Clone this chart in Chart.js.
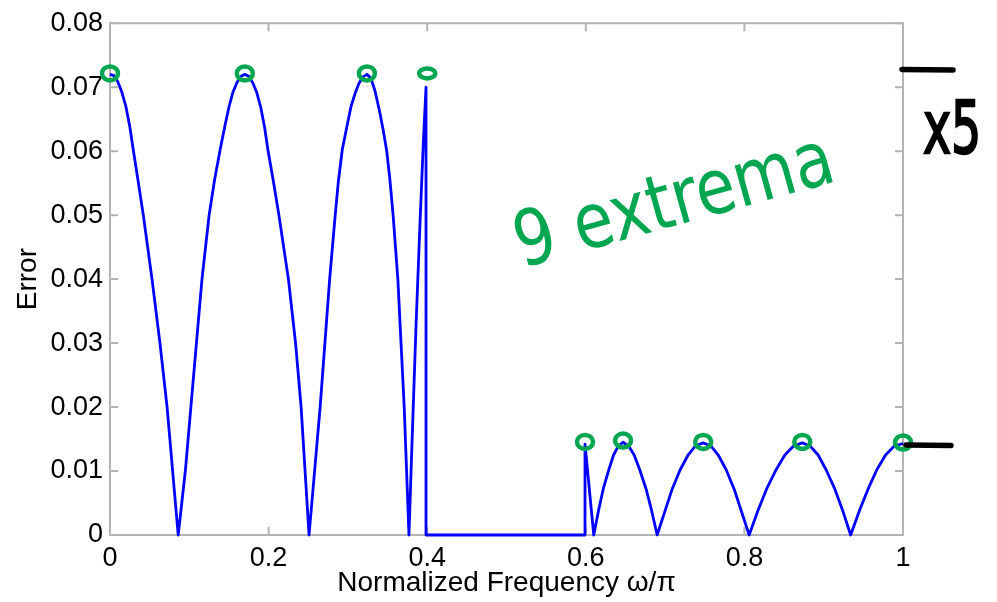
<!DOCTYPE html>
<html>
<head>
<meta charset="utf-8">
<script src="https://cdn.jsdelivr.net/npm/chart.js@4.4.1/dist/chart.umd.min.js"></script>
<style>
  html, body { margin: 0; padding: 0; background: #fff; }
  canvas { display: block; }
</style>
</head>
<body>
<canvas id="errorChart" width="997" height="602"></canvas>
<script>
// Error curve: passband, transition, stopband
const passFreq = [0, 0.005, 0.010, 0.015, 0.020, 0.025, 0.029, 0.035, 0.042, 0.053, 0.063, 0.072, 0.079, 0.086,
  0.095, 0.102, 0.109, 0.116, 0.125, 0.132, 0.139, 0.145, 0.150, 0.155, 0.160, 0.165, 0.170,
  0.175, 0.180, 0.185, 0.190, 0.195, 0.199, 0.206,
  0.213, 0.225, 0.234, 0.241, 0.246, 0.251,
  0.258, 0.265, 0.271, 0.277, 0.284, 0.288, 0.293, 0.299, 0.304, 0.309, 0.314, 0.319, 0.324,
  0.329, 0.334, 0.340, 0.3445, 0.349, 0.353,
  0.357, 0.363, 0.367, 0.371, 0.374, 0.377,
  0.381, 0.386, 0.391, 0.395, 0.3985];
const passErr = [0.0720, 0.0718, 0.0708, 0.0692, 0.0670, 0.0638, 0.0605, 0.0557, 0.0500, 0.0400, 0.0300, 0.0200, 0.0100, 0,
  0.0100, 0.0200, 0.0300, 0.0400, 0.0500, 0.0556, 0.0603, 0.0640, 0.0669, 0.0692, 0.0707, 0.0717, 0.0720,
  0.0717, 0.0707, 0.0692, 0.0669, 0.0637, 0.0603, 0.0553,
  0.0500, 0.0400, 0.0300, 0.0200, 0.0100, 0,
  0.0100, 0.0200, 0.0300, 0.0400, 0.0500, 0.0553, 0.0603, 0.0640, 0.0670, 0.0690, 0.0706, 0.0716, 0.0720,
  0.0714, 0.0695, 0.0662, 0.0633, 0.0600, 0.0555,
  0.0500, 0.0400, 0.0300, 0.0200, 0.0100, 0,
  0.0150, 0.0330, 0.0490, 0.0610, 0.0700];

const transFreq = [0.3985, 0.599];
const transErr = [0, 0];

const stopFreq = [0.599, 0.610,
  0.616, 0.622, 0.629, 0.635, 0.641, 0.647, 0.654, 0.661, 0.668, 0.676, 0.683, 0.690,
  0.700, 0.709, 0.719, 0.729, 0.738, 0.748, 0.758, 0.767, 0.777, 0.787, 0.796, 0.806,
  0.817, 0.828, 0.840, 0.851, 0.862, 0.873, 0.883, 0.893, 0.903, 0.914, 0.924, 0.934,
  0.945, 0.956, 0.967, 0.978, 0.989, 1.0];
const stopErr = [0.0142, 0,
  0.0038, 0.0072, 0.0102, 0.0125, 0.0139, 0.0145, 0.0139, 0.0125, 0.0102, 0.0072, 0.0038, 0,
  0.0038, 0.0072, 0.0102, 0.0125, 0.0139, 0.0144, 0.0139, 0.0125, 0.0102, 0.0072, 0.0038, 0,
  0.0038, 0.0072, 0.0102, 0.0125, 0.0139, 0.0144, 0.0139, 0.0125, 0.0102, 0.0072, 0.0038, 0,
  0.0038, 0.0072, 0.0102, 0.0125, 0.0139, 0.0143];

// the 9 circled extrema
const extremaFreq = [0, 0.170, 0.324, 0.4, 0.599, 0.647, 0.748, 0.873, 1.0];
const extremaErr = [0.072, 0.072, 0.072, 0.072, 0.0144, 0.0146, 0.0144, 0.0144, 0.0143];
// the two ripple levels marked on the right
const rippleLevels = [0.072, 0.0144];

const xTicks = [0, 0.2, 0.4, 0.6, 0.8, 1];
const xTickLabels = ['0', '0.2', '0.4', '0.6', '0.8', '1'];
const yTicks = [0, 0.01, 0.02, 0.03, 0.04, 0.05, 0.06, 0.07, 0.08];
const yTickLabels = ['0', '0.01', '0.02', '0.03', '0.04', '0.05', '0.06', '0.07', '0.08'];

const toPoints = (xs, ys) => xs.map((x, i) => ({ x: x, y: ys[i] }));
const curve = [].concat(
  toPoints(passFreq, passErr),
  toPoints(transFreq, transErr),
  toPoints(stopFreq, stopErr)
);

const FONT = '"Liberation Sans", Arial, Helvetica, sans-serif';
const GREEN = '#00a650';

// MATLAB style box with inward ticks on all four sides
const boxPlugin = {
  id: 'box',
  beforeDatasetsDraw(chart) {
    const { ctx, chartArea: a, scales } = chart;
    const len = 8;
    ctx.save();
    ctx.strokeStyle = '#b4b4b4';
    ctx.lineWidth = 2;
    ctx.strokeRect(a.left, a.top, a.right - a.left, a.bottom - a.top);
    ctx.beginPath();
    xTicks.forEach(v => {
      const px = scales.x.getPixelForValue(v);
      ctx.moveTo(px, a.bottom); ctx.lineTo(px, a.bottom - len);
      ctx.moveTo(px, a.top); ctx.lineTo(px, a.top + len);
    });
    yTicks.forEach(v => {
      const py = scales.y.getPixelForValue(v);
      ctx.moveTo(a.left, py); ctx.lineTo(a.left + len, py);
      ctx.moveTo(a.right, py); ctx.lineTo(a.right - len, py);
    });
    ctx.stroke();
    ctx.restore();
  }
};

// hand drawn notes: circles, "9 extrema", "x5" and ripple marks
const notesPlugin = {
  id: 'notes',
  afterDraw(chart) {
    const { ctx, scales } = chart;
    ctx.save();
    ctx.strokeStyle = GREEN;
    ctx.lineWidth = 4.5;
    extremaFreq.forEach((f, i) => {
      const px = scales.x.getPixelForValue(f);
      const py = scales.y.getPixelForValue(extremaErr[i]) - 1;
      ctx.beginPath();
      ctx.ellipse(px, py, 8, i === 3 ? 5 : 7, 0, 0, Math.PI * 2);
      ctx.stroke();
    });

    ctx.fillStyle = GREEN;
    ctx.font = '64px "DejaVu Sans", sans-serif';
    ctx.translate(522, 268);
    ctx.rotate(-0.27);
    ctx.scale(1, 1.2);
    ctx.fillText('9 extrema', 0, 0);
    ctx.restore();

    ctx.save();
    ctx.fillStyle = '#000';
    ctx.strokeStyle = '#000';
    ctx.lineWidth = 1.6;
    ctx.font = '50px "DejaVu Sans", sans-serif';
    ctx.translate(923, 153);
    ctx.scale(0.95, 1.45);
    ctx.fillText('x5', 0, 0);
    ctx.strokeText('x5', 0, 0);
    ctx.restore();

    ctx.save();
    ctx.strokeStyle = '#000';
    ctx.lineWidth = 5.5;
    ctx.lineCap = 'round';
    const right = chart.chartArea.right;
    rippleLevels.forEach((lv, i) => {
      const py = scales.y.getPixelForValue(lv) + (i === 0 ? -5 : 2);
      ctx.beginPath();
      ctx.moveTo(right + (i === 0 ? -1 : 3), py);
      ctx.lineTo(right + (i === 0 ? 50 : 48), py + 0.5);
      ctx.stroke();
    });
    ctx.restore();
  }
};

const ctx = document.getElementById('errorChart').getContext('2d');
new Chart(ctx, {
  type: 'line',
  data: {
    datasets: [{
      data: curve,
      borderColor: '#0000ff',
      borderWidth: 2.8,
      borderJoinStyle: 'round',
      pointRadius: 0,
      tension: 0,
      fill: false,
      clip: false
    }]
  },
  options: {
    responsive: false,
    animation: false,
    devicePixelRatio: 1,
    layout: { padding: { left: 0, top: 14, right: 94, bottom: 0 } },
    plugins: {
      legend: { display: false },
      tooltip: { enabled: false }
    },
    scales: {
      x: {
        type: 'linear',
        min: 0,
        max: 1,
        afterBuildTicks: s => { s.ticks = xTicks.map(v => ({ value: v })); },
        afterFit: s => { s.height = 67; },
        grid: { display: false, drawTicks: false },
        border: { display: false },
        ticks: {
          autoSkip: false,
          maxRotation: 0,
          padding: 7,
          color: '#000',
          font: { family: FONT, size: 27 },
          callback: (v, i) => xTickLabels[i]
        },
        title: {
          display: true,
          text: 'Normalized Frequency \u03c9/\u03c0',
          color: '#000',
          font: { family: FONT, size: 28 },
          padding: { top: 0, bottom: 2 }
        }
      },
      y: {
        type: 'linear',
        min: 0,
        max: 0.08,
        afterBuildTicks: s => { s.ticks = yTicks.map(v => ({ value: v })); },
        afterFit: s => { s.width = 110; },
        grid: { display: false, drawTicks: false },
        border: { display: false },
        ticks: {
          autoSkip: false,
          padding: 7,
          color: '#000',
          font: { family: FONT, size: 27 },
          callback: (v, i) => yTickLabels[i]
        },
        title: {
          display: true,
          text: 'Error',
          color: '#000',
          font: { family: FONT, size: 28 },
          padding: { top: 11, bottom: 0 }
        }
      }
    }
  },
  plugins: [boxPlugin, notesPlugin]
});
</script>
</body>
</html>
